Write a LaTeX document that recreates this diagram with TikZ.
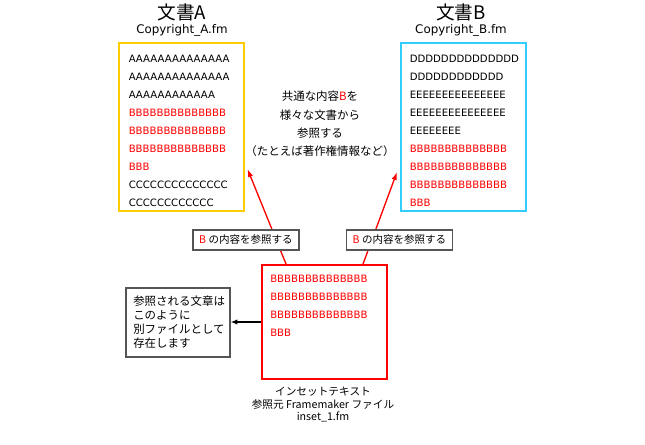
\documentclass[tikz,border=0pt]{standalone}
\usepackage{fontspec}
\setmainfont{DejaVu Sans}
\newfontfamily\jpfont{Noto Sans CJK JP}
\usetikzlibrary{arrows.meta,calc}
\definecolor{DocYellow}{HTML}{FFCC00}
\definecolor{DocBlue}{HTML}{33CCFF}
\definecolor{InsetRed}{HTML}{FF0000}
\definecolor{FrameGray}{HTML}{555555}

\begin{document}
\begin{tikzpicture}[x=0.75pt, y=-0.75pt,
    docbox/.style={draw, line width=1.5pt, minimum width=93.75pt, minimum height=126pt, inner sep=0pt},
    bodytext/.style={font=\fontsize{7.6pt}{13.5pt}\selectfont, align=left, anchor=north west, inner sep=0pt},
    doctitle/.style={font=\jpfont\fontsize{14pt}{15pt}\selectfont, inner sep=0pt},
    fname/.style={font=\fontsize{8.9pt}{10pt}\selectfont, inner sep=0pt},
    jptext/.style={font=\jpfont\fontsize{8.6pt}{13.7pt}\selectfont, inner sep=0pt},
    reflabel/.style={draw=FrameGray, fill=white, line width=0.9pt, minimum width=80pt, minimum height=15pt, inner sep=0pt, font=\jpfont\fontsize{7.9pt}{9pt}\selectfont},
    refarr/.style={-{Latex[length=6pt, width=4pt]}, draw=InsetRed, line width=1pt}
  ]
    \useasboundingbox (0,0) rectangle (645,445);

    \node[doctitle] (titleA) at (182,12) {文書A};
    \node[fname] (fileA) at (182,30) {Copyright\_A.fm};
    \node[docbox, draw=DocYellow] (docA) at (181.5,127) {};
    \node[bodytext] (textA) at (128.5,54.5) {AAAAAAAAAAAAAA\\AAAAAAAAAAAAAA\\AAAAAAAAAAAA\\
      \textcolor{InsetRed}{BBBBBBBBBBBBBB}\\\textcolor{InsetRed}{BBBBBBBBBBBBBB}\\
      \textcolor{InsetRed}{BBBBBBBBBBBBBB}\\\textcolor{InsetRed}{BBB}\\
      CCCCCCCCCCCCCC\\CCCCCCCCCCCC};

    \node[doctitle] (titleB) at (461,12) {文書B};
    \node[fname] (fileB) at (461,30) {Copyright\_B.fm};
    \node[docbox, draw=DocBlue] (docB) at (463,127) {};
    \node[bodytext] (textB) at (409.5,54.5) {DDDDDDDDDDDDDD\\DDDDDDDDDDDD\\EEEEEEEEEEEEEEE\\
      EEEEEEEEEEEEEEE\\EEEEEEEE\\
      \textcolor{InsetRed}{BBBBBBBBBBBBBB}\\\textcolor{InsetRed}{BBBBBBBBBBBBBB}\\
      \textcolor{InsetRed}{BBBBBBBBBBBBBB}\\\textcolor{InsetRed}{BBB}};

    \node[jptext, align=center, anchor=north] (shared) at (320,91) {共通な内容\textcolor{InsetRed}{B}を\\様々な文書から\\参照する\\（たとえば著作権情報など）};

    \node[docbox, draw=InsetRed, minimum height=85.5pt] (inset) at (324.5,322) {};
    \node[bodytext, text=InsetRed] (textI) at (270,274.5) {BBBBBBBBBBBBBB\\BBBBBBBBBBBBBB\\BBBBBBBBBBBBBB\\BBB};

    \node[draw=FrameGray, line width=1.1pt, minimum width=78pt, minimum height=51.75pt, inner sep=0pt] (note) at (178,322.5) {};
    \node[font=\jpfont\fontsize{8.6pt}{10.3pt}\selectfont, align=left, anchor=north west, inner sep=0pt] (noteText) at (133,296) {参照される文章は\\このように\\別ファイルとして\\存在します};

    \node[jptext, font=\jpfont\fontsize{8pt}{9.4pt}\selectfont, align=center, anchor=north] (caption) at (323,387) {インセットテキスト\\参照元 Framemaker ファイル\\inset\_1.fm};

    \draw[refarr] ($(inset.north)+(-38.5,0)$) -- ($(docA.south east)+(2.5,-43)$);
    \draw[refarr] ($(inset.north)+(38.5,0)$) -- ($(docB.south west)+(-2.5,-40)$);
    \draw[-{Latex[length=5pt, width=4pt]}, line width=0.8pt] (inset.west) -- (inset.west -| note.east);

    \node[reflabel, minimum width=79.5pt] (refA) at (246,240) {\textcolor{InsetRed}{B} の内容を参照する};
    \node[reflabel] (refB) at (399.5,240) {\textcolor{InsetRed}{B} の内容を参照する};
  \end{tikzpicture}
\end{document}
